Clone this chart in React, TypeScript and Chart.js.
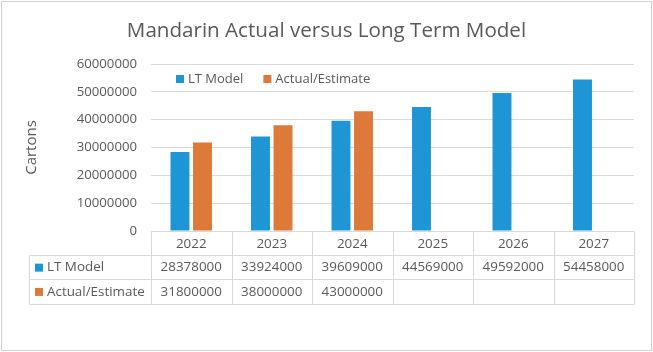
import React, { useEffect, useRef } from "react";
import { Chart, registerables } from "chart.js";

Chart.register(...registerables);

const chartTitle = "Mandarin Actual versus Long Term Model";
const yAxisTitle = "Cartons";
const categories = ["2022", "2023", "2024", "2025", "2026", "2027"];
const seriesNames = ["LT Model", "Actual/Estimate"];
const ltModel = [28378000, 33924000, 39609000, 44569000, 49592000, 54458000];
const actualEstimate: (number | null)[] = [31800000, 38000000, 43000000, null, null, null];
const yMin = 0;
const yMax = 60000000;
const yStep = 10000000;

const BLUE = "#1E96D6";
const ORANGE = "#DE7A39";
const TEXT = "#595959";
const GRID = "#D9D9D9";
const FONT = "'Open Sans', sans-serif";

const decorPlugin = {
  id: "decor",
  beforeDraw(chart: any) {
    const { ctx, width, height } = chart;
    ctx.save();
    ctx.fillStyle = "#ffffff";
    ctx.fillRect(0, 0, width, height);
    ctx.strokeStyle = "#D0D0D0";
    ctx.lineWidth = 1;
    ctx.strokeRect(1.5, 1.5, width - 3, height - 3);
    ctx.restore();
  },
  afterDraw(chart: any) {
    const { ctx, chartArea, scales } = chart;
    const xs = scales.x;
    ctx.save();
    // Title
    ctx.fillStyle = TEXT;
    ctx.font = `20.6px ${FONT}`;
    ctx.textAlign = "center";
    ctx.textBaseline = "alphabetic";
    ctx.fillText(chartTitle, 326.5, 36.5);

    // Legend inside plot area
    const colors = [BLUE, ORANGE];
    ctx.font = `13px ${FONT}`;
    ctx.textAlign = "left";
    ctx.textBaseline = "middle";
    let lx = chartArea.left + 25;
    const ly = chartArea.top + 15;
    seriesNames.forEach((name, i) => {
      ctx.fillStyle = colors[i];
      ctx.fillRect(lx, ly - 4, 8, 8);
      ctx.fillStyle = TEXT;
      ctx.fillText(name, lx + 12, ly);
      lx += 12 + ctx.measureText(name).width + 20;
    });

    // Data table
    const top = chartArea.bottom;
    const rowH = 24.3;
    const r1 = top + 24;
    const r2 = r1 + rowH;
    const r3 = r2 + rowH;
    const tableLeft = 29;
    const bounds: number[] = [chartArea.left];
    for (let i = 0; i < categories.length - 1; i++) {
      bounds.push((xs.getPixelForValue(i) + xs.getPixelForValue(i + 1)) / 2);
    }
    bounds.push(chartArea.right);
    const px = (v: number) => Math.round(v) + 0.5;
    ctx.strokeStyle = GRID;
    ctx.lineWidth = 1;
    ctx.beginPath();
    bounds.forEach((b) => {
      ctx.moveTo(px(b), px(top));
      ctx.lineTo(px(b), px(r3));
    });
    ctx.moveTo(px(tableLeft), px(r1));
    ctx.lineTo(px(tableLeft), px(r3));
    [r1, r2, r3].forEach((r) => {
      ctx.moveTo(px(tableLeft), px(r));
      ctx.lineTo(px(chartArea.right), px(r));
    });
    ctx.stroke();

    const rows = [ltModel, actualEstimate];
    ctx.font = `13.4px ${FONT}`;
    ctx.textBaseline = "middle";
    rows.forEach((vals, ri) => {
      const cy = (ri === 0 ? (r1 + r2) / 2 : (r2 + r3) / 2) + 0.5;
      ctx.fillStyle = colors[ri];
      ctx.fillRect(tableLeft + 6, cy - 4, 8, 8);
      ctx.fillStyle = TEXT;
      ctx.textAlign = "left";
      ctx.fillText(seriesNames[ri], tableLeft + 18, cy);
      ctx.textAlign = "center";
      vals.forEach((v, ci) => {
        if (v === null || v === undefined) return;
        ctx.fillText(String(v), xs.getPixelForValue(ci), cy);
      });
    });
    ctx.restore();
  },
};

export default function App() {
  const ref = useRef<HTMLCanvasElement | null>(null);
  useEffect(() => {
    document.body.style.margin = "0";
    const canvas = ref.current;
    if (!canvas) return;
    const chart = new Chart(canvas, {
      type: "bar",
      data: {
        labels: categories,
        datasets: [
          {
            label: seriesNames[0],
            data: ltModel,
            backgroundColor: BLUE,
            categoryPercentage: 0.56,
            barPercentage: 0.84,
          },
          {
            label: seriesNames[1],
            data: actualEstimate,
            backgroundColor: ORANGE,
            categoryPercentage: 0.56,
            barPercentage: 0.84,
          },
        ],
      },
      options: {
        responsive: false,
        animation: false,
        devicePixelRatio: 1,
        layout: { padding: { top: 64, left: 0, right: 19, bottom: 97 } },
        plugins: {
          legend: { display: false },
          title: { display: false },
          tooltip: { enabled: false },
        },
        scales: {
          x: {
            grid: { display: false, drawTicks: false },
            border: { display: false },
            ticks: {
              color: TEXT,
              font: { family: FONT, size: 13.4 },
              padding: 5,
            },
            afterFit(scale: any) {
              scale.height = 24;
            },
          },
          y: {
            min: yMin,
            max: yMax,
            grid: { color: GRID, drawTicks: false },
            border: { display: false },
            ticks: {
              stepSize: yStep,
              color: TEXT,
              font: { family: FONT, size: 13.2 },
              padding: 14,
              callback: (v: any) => String(v),
            },
            title: {
              display: true,
              text: yAxisTitle,
              color: TEXT,
              font: { family: FONT, size: 15 },
              padding: { top: 23, bottom: 0 },
            },
            afterFit(scale: any) {
              scale.width = 151;
            },
          },
        },
      },
      plugins: [decorPlugin],
    });
    return () => chart.destroy();
  }, []);
  return <canvas ref={ref} width={653} height={352} style={{ display: "block" }} />;
}
